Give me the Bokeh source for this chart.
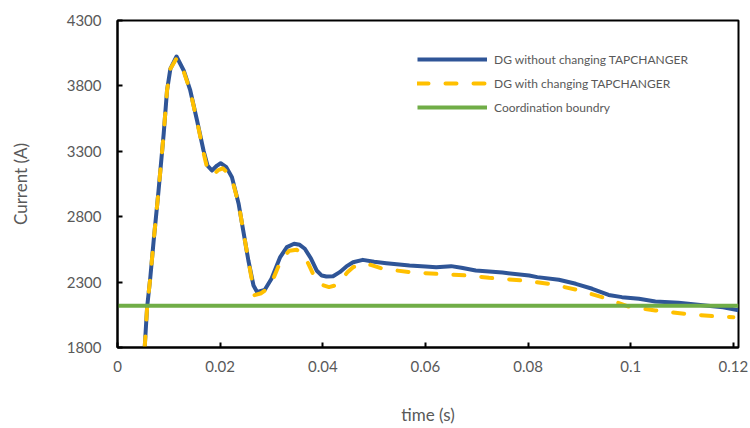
from bokeh.plotting import figure
from bokeh.models import Range1d, FixedTicker, Legend, LegendItem
from bokeh.embed import file_html
from bokeh.resources import INLINE

# ---- data ----
t_blue = [0.0053, 0.00577, 0.0064, 0.00705, 0.0080, 0.0090, 0.00965, 0.0103, 0.0115,
          0.0129, 0.01418, 0.0155, 0.01676, 0.01754, 0.0184, 0.0194, 0.0201, 0.0212,
          0.0223, 0.0236, 0.0245, 0.0255, 0.0265, 0.0272, 0.0287, 0.0300, 0.0317,
          0.0330, 0.0344, 0.0355, 0.0365, 0.0377, 0.0388, 0.0398, 0.0407, 0.0420,
          0.0433, 0.0446, 0.0459, 0.0478, 0.0500, 0.0524, 0.0569, 0.0600, 0.0621,
          0.0650, 0.0670, 0.0698, 0.0750, 0.0802, 0.0818, 0.0860, 0.0893, 0.0925,
          0.0957, 0.0983, 0.1016, 0.1048, 0.1093, 0.1145, 0.1180, 0.1210]
i_blue = [1800, 2108, 2338, 2618, 3000, 3434, 3765, 3930, 4025,
          3918, 3765, 3535, 3306, 3191, 3153, 3191, 3209, 3179,
          3102, 2899, 2694, 2465, 2274, 2225, 2241, 2325, 2491,
          2567, 2593, 2585, 2555, 2480, 2389, 2350, 2343, 2345,
          2376, 2420, 2452, 2470, 2455, 2444, 2427, 2420, 2414,
          2422, 2410, 2389, 2373, 2350, 2338, 2318, 2287, 2249,
          2202, 2185, 2172, 2152, 2142, 2121, 2108, 2085]

t_yellow = [0.0053, 0.00577, 0.0064, 0.00705, 0.0080, 0.0090, 0.00965, 0.0103, 0.0115,
            0.0129, 0.01418, 0.0155, 0.01676, 0.01754, 0.0187, 0.0196, 0.0205, 0.0215,
            0.0225, 0.0236, 0.0245, 0.0255, 0.0267, 0.0280, 0.0292, 0.0305, 0.0320,
            0.0335, 0.0349, 0.0360, 0.0372, 0.0384, 0.0398, 0.0412, 0.0425, 0.0436,
            0.0448, 0.0459, 0.0478, 0.0495, 0.0517, 0.0569, 0.0621, 0.0685, 0.0724,
            0.0750, 0.0789, 0.0802, 0.0841, 0.0893, 0.0944, 0.0996, 0.1048, 0.1106,
            0.1164, 0.1200]
i_yellow = [1800, 2108, 2338, 2618, 3000, 3434, 3765, 3930, 4010,
            3910, 3760, 3530, 3290, 3160, 3120, 3155, 3170, 3135,
            3060, 2899, 2694, 2465, 2200, 2215, 2250, 2340, 2480,
            2540, 2547, 2520, 2440, 2338, 2280, 2262, 2275, 2317,
            2375, 2414, 2444, 2430, 2402, 2376, 2363, 2350, 2333,
            2325, 2312, 2307, 2287, 2243, 2185, 2113, 2083, 2057,
            2039, 2032]

t_bound = [0.0, 0.121]
i_bound = [2120, 2120]

x_ticks = [0, 0.02, 0.04, 0.06, 0.08, 0.1, 0.12]
x_tick_labels = ["0", "0.02", "0.04", "0.06", "0.08", "0.1", "0.12"]
y_ticks = [1800, 2300, 2800, 3300, 3800, 4300]

series_names = ["DG without changing TAPCHANGER", "DG with changing TAPCHANGER",
                "Coordination boundry"]

FONT = "Lato"
GRAY = "#595959"

p = figure(width=750, height=428, output_backend="svg", toolbar_location=None,
           x_range=Range1d(0, 0.121), y_range=Range1d(1800, 4300),
           min_border_left=117, min_border_right=12, min_border_top=20,
           min_border_bottom=81)
p.xgrid.visible = False
p.ygrid.visible = False
p.outline_line_color = "black"
p.outline_line_width = 2
p.outline_line_alpha = 1

r1 = p.line(t_blue, i_blue, line_color="#2F5597", line_width=4, line_join="round")
r2 = p.line(t_yellow, i_yellow, line_color="#FFC000", line_width=4,
            line_dash="11 17", line_cap="round", line_join="round")
r3 = p.line(t_bound, i_bound, line_color="#70AD47", line_width=4)

for ax in (p.xaxis[0], p.yaxis[0]):
    ax.axis_line_color = "black"
    ax.axis_line_width = 2
    ax.major_tick_in = 5
    ax.major_tick_out = 0
    ax.major_tick_line_color = "black"
    ax.major_tick_line_width = 2
    ax.minor_tick_line_color = None
    ax.major_label_text_font = FONT
    ax.major_label_text_font_size = "15px"
    ax.major_label_text_color = GRAY
    ax.axis_label_text_font = FONT
    ax.axis_label_text_font_size = "17px"
    ax.axis_label_text_font_style = "normal"
    ax.axis_label_text_color = GRAY

p.xaxis.ticker = FixedTicker(ticks=x_ticks)
p.xaxis.major_label_overrides = {v: s for v, s in zip(x_ticks, x_tick_labels)}
p.xaxis.axis_label = "time (s)"
p.xaxis.major_label_standoff = 13
p.xaxis.axis_label_standoff = 29

p.yaxis.ticker = FixedTicker(ticks=y_ticks)
p.yaxis.axis_label = "Current (A)"
p.yaxis.major_label_standoff = 16
p.yaxis.axis_label_standoff = 33

legend = Legend(items=[LegendItem(label=n, renderers=[r]) for n, r in
                       zip(series_names, [r1, r2, r3])],
                location=(300, 230), padding=0, margin=0, spacing=4,
                glyph_width=70, glyph_height=20, label_standoff=7,
                label_text_font=FONT, label_text_font_size="12px",
                label_text_color=GRAY, border_line_alpha=0,
                background_fill_alpha=0)
p.add_layout(legend)

open("out.html", "w").write(file_html(p, INLINE))
